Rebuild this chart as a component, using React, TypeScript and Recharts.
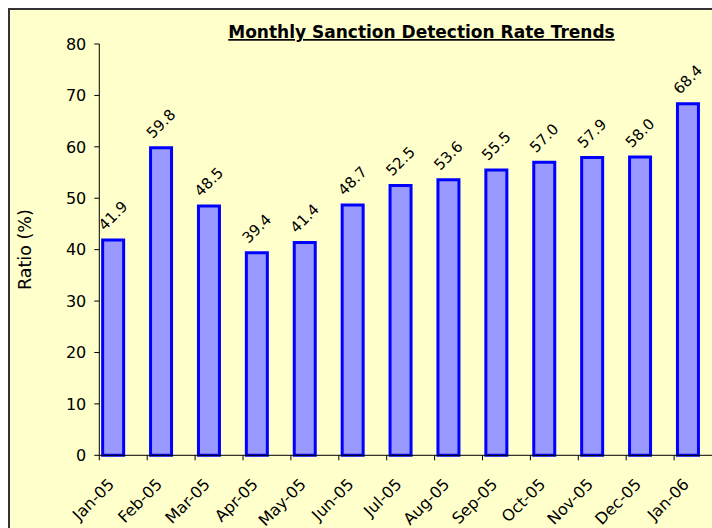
import React from 'react';
import { BarChart, Bar, XAxis, YAxis, LabelList } from 'recharts';

const months = ['Jan-05', 'Feb-05', 'Mar-05', 'Apr-05', 'May-05', 'Jun-05', 'Jul-05', 'Aug-05', 'Sep-05', 'Oct-05', 'Nov-05', 'Dec-05', 'Jan-06'];
const ratios = [41.9, 59.8, 48.5, 39.4, 41.4, 48.7, 52.5, 53.6, 55.5, 57.0, 57.9, 58.0, 68.4];
const yTicks = [0, 10, 20, 30, 40, 50, 60, 70, 80];
const title = 'Monthly Sanction Detection Rate Trends';
const yLabel = 'Ratio (%)';

const data = months.map((m, i) => ({ month: m, ratio: ratios[i], spare: null }));

const FONT = "'DejaVu Sans', Verdana, sans-serif";
const CHART_W = 740;
const CHART_H = 518;
const MARGIN = { top: 34, right: 28, left: 0, bottom: 0 };
const Y_AXIS_W = 89.3;
const X_AXIS_H = 72.7;
const PLOT_W = CHART_W - MARGIN.left - MARGIN.right - Y_AXIS_W;
const BAND = PLOT_W / months.length;

const XTick = (props: any) => {
  const { x, y, payload } = props;
  const tx = x - 8;
  const ty = y + 30;
  return (
    <g>
      <line x1={x - BAND / 2} y1={y} x2={x - BAND / 2} y2={y + 5} stroke="#000" strokeWidth={1} />
      <text
        x={tx}
        y={ty}
        transform={`rotate(-45, ${tx}, ${ty})`}
        textAnchor="end"
        fontSize={16}
        fontFamily={FONT}
        fill="#000"
      >
        {payload.value}
      </text>
    </g>
  );
};

const BarLabel = (props: any) => {
  const { x, y, width, value } = props;
  const cx = x + width / 2;
  const cy = y - 24;
  return (
    <text
      x={cx}
      y={cy}
      transform={`rotate(-45, ${cx}, ${cy})`}
      textAnchor="middle"
      dominantBaseline="central"
      fontSize={15}
      fontFamily={FONT}
      fill="#000"
    >
      {Number(value).toFixed(1)}
    </text>
  );
};

export default function App() {
  return (
    <div
      style={{
        position: 'fixed',
        left: 8,
        top: 8,
        width: 704,
        height: 520,
        overflow: 'hidden',
        background: '#FFFFCC',
        borderLeft: '2px solid #333',
        borderTop: '2px solid #333',
        boxSizing: 'border-box',
      }}
    >
      <div style={{ position: 'absolute', left: 0, top: 0 }}>
        <BarChart
          width={CHART_W}
          height={CHART_H}
          data={data}
          margin={MARGIN}
          barCategoryGap="7%"
          barGap={0}
        >
          <XAxis
            dataKey="month"
            interval={0}
            tickLine={false}
            tickSize={0}
            tickMargin={0}
            height={X_AXIS_H}
            axisLine={{ stroke: '#000', strokeWidth: 1 }}
            tick={<XTick />}
          />
          <YAxis
            domain={[0, 80]}
            ticks={yTicks}
            width={Y_AXIS_W}
            tickSize={5}
            tickMargin={8}
            axisLine={{ stroke: '#000', strokeWidth: 1 }}
            tickLine={{ stroke: '#000', strokeWidth: 1 }}
            tick={{ fontSize: 16, fontFamily: FONT, fill: '#000' }}
            label={{
              value: yLabel,
              angle: -90,
              position: 'insideLeft',
              offset: 15,
              style: { textAnchor: 'middle', fontSize: 17.5, fontFamily: FONT, fill: '#000' },
            }}
          />
          <Bar dataKey="ratio" fill="#9999FF" stroke="#0000FF" strokeWidth={3} isAnimationActive={false}>
            <LabelList dataKey="ratio" content={<BarLabel />} />
          </Bar>
          <Bar dataKey="spare" fill="none" isAnimationActive={false} />
        </BarChart>
      </div>
      <svg width={704} height={60} style={{ position: 'absolute', left: 0, top: 0, pointerEvents: 'none' }}>
        <text
          x={411.5}
          y={28}
          textAnchor="middle"
          fontSize={17}
          fontWeight="bold"
          fontFamily={FONT}
          textDecoration="underline"
          fill="#000"
        >
          {title}
        </text>
      </svg>
    </div>
  );
}
